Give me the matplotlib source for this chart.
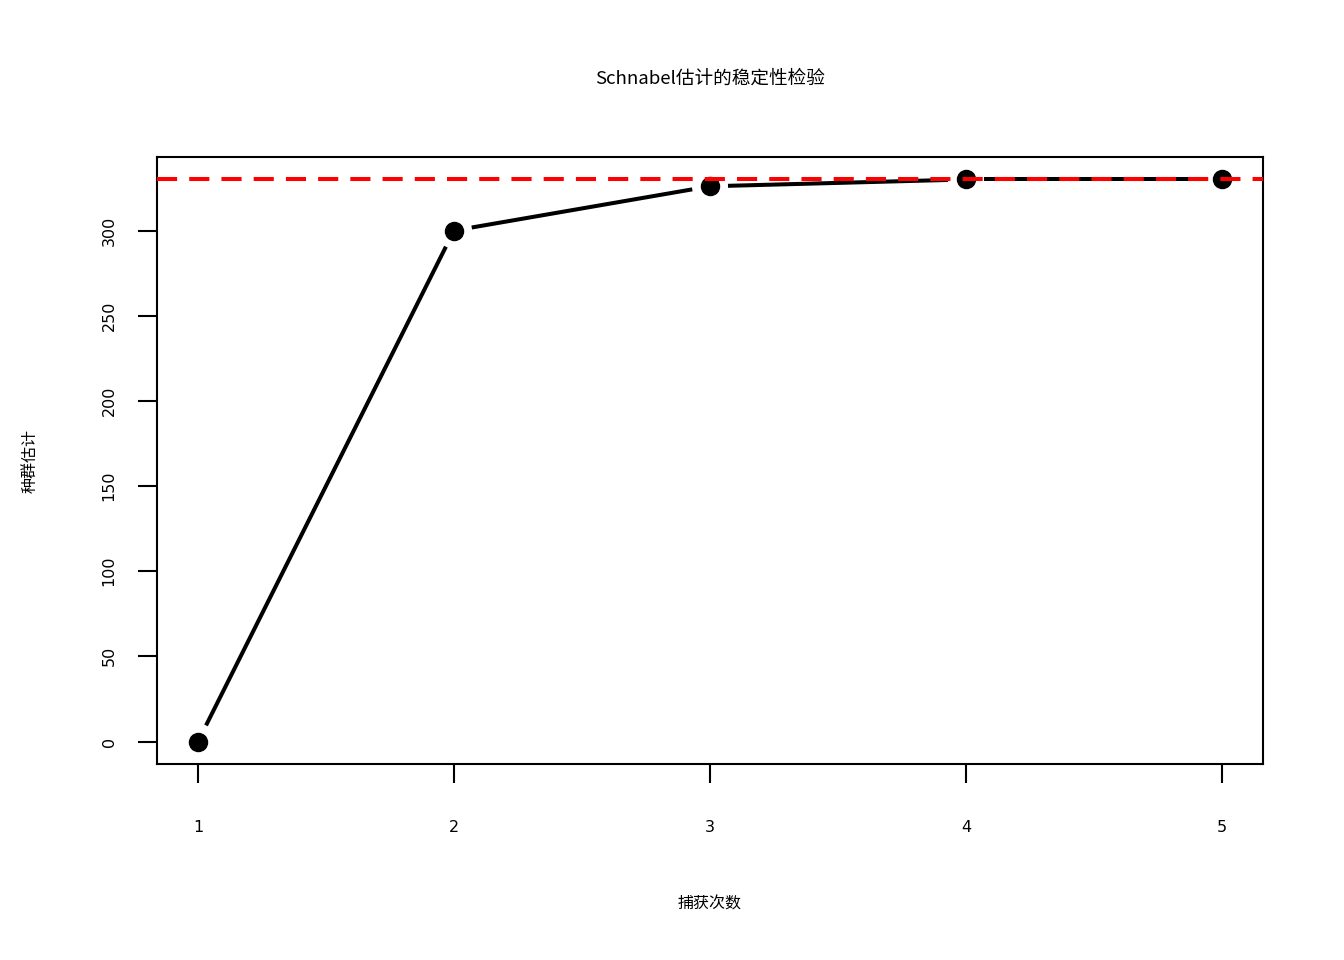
import numpy as np
import matplotlib
matplotlib.use("Agg")
import matplotlib.pyplot as plt

plt.rcParams['font.family'] = ['Noto Sans CJK SC', 'DejaVu Sans']

# data
captures = [1, 2, 3, 4, 5]
estimates = [0, 300, 326, 330, 330]
final_estimate = 330
x_ticks = [1, 2, 3, 4, 5]
y_ticks = [0, 50, 100, 150, 200, 250, 300]

W, H = 1344, 960
fig = plt.figure(figsize=(W / 100, H / 100), dpi=100)
ax = fig.add_axes([157 / W, 1 - 764 / H, (1263 - 157) / W, (764 - 157) / H])

pad_x = 0.04 * (max(captures) - min(captures))
pad_y = 0.04 * (max(estimates) - min(estimates))
ax.set_xlim(min(captures) - pad_x, max(captures) + pad_x)
ax.set_ylim(min(estimates) - pad_y, max(estimates) + pad_y)

# R type="b": line segments with a gap around each point
gap = 18  # pixels
trans = ax.transData
inv = trans.inverted()
pts = trans.transform(np.column_stack([captures, estimates]))
for p0, p1 in zip(pts[:-1], pts[1:]):
    d = p1 - p0
    L = np.hypot(*d)
    if L <= 2 * gap:
        continue
    u = d / L
    a = inv.transform(p0 + u * gap)
    b = inv.transform(p1 - u * gap)
    ax.plot([a[0], b[0]], [a[1], b[1]], color='black', lw=2.9,
            solid_capstyle='butt', zorder=2)

ax.plot(captures, estimates, 'o', color='black', markersize=13, zorder=3)
ax.axhline(final_estimate, color='red', lw=2.9, ls=(0, (5, 3)), zorder=4)

ax.set_xticks(x_ticks)
ax.set_yticks(y_ticks)
ax.set_xticklabels([str(v) for v in x_ticks], fontsize=11.5,
                   family='DejaVu Sans')
ax.set_yticklabels([str(v) for v in y_ticks], fontsize=11.5,
                   family='DejaVu Sans', rotation=90, va='center')
ax.tick_params(axis='x', length=14, width=1.5, pad=26)
ax.tick_params(axis='y', length=14, width=1.5, pad=15)
for s in ax.spines.values():
    s.set_linewidth(1.5)

fig.text(710 / W, 1 - 79 / H, 'Schnabel估计的稳定性检验', ha='center',
         va='center', fontsize=13.4)
fig.text(710 / W, 1 - 904 / H, '捕获次数', ha='center', va='center',
         fontsize=11.5)
fig.text(30 / W, 1 - 461 / H, '种群估计', ha='center', va='center',
         fontsize=11.5, rotation=90)

fig.savefig('out.png', dpi=100)
